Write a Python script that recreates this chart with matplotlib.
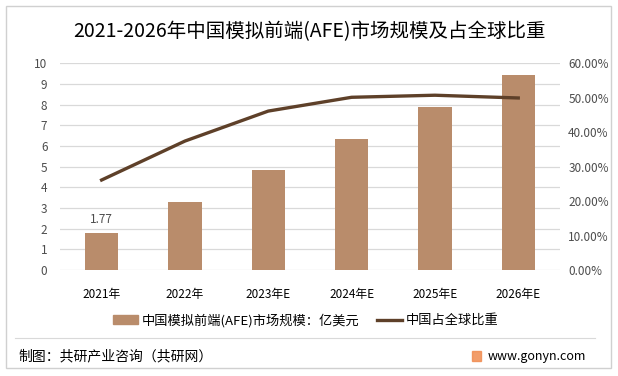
import numpy as np
import matplotlib
matplotlib.use('Agg')
import matplotlib.pyplot as plt
from matplotlib.patches import Rectangle
from matplotlib.lines import Line2D

plt.rcParams['font.family'] = ['Noto Sans CJK SC', 'DejaVu Sans']

# data
years = ['2021年', '2022年', '2023年E', '2024年E', '2025年E', '2026年E']
market = [1.77, 3.3, 4.83, 6.33, 7.87, 9.42]        # 亿美元
share = [26.1, 37.4, 46.1, 50.1, 50.7, 49.9]        # %

bar_color = '#B98C6B'
line_color = '#5E4029'
text_color = '#4D4D4D'

fig = plt.figure(figsize=(6.18, 3.76), dpi=100)
ax = fig.add_axes([0.097, 0.282, 0.809, 0.55])
ax2 = ax.twinx()

x = np.arange(len(years))
ax.bar(x, market, width=0.4, color=bar_color, zorder=2)
ax2.plot(x, share, color=line_color, lw=2.4, zorder=3)

ax.text(x[0], market[0] + 0.35, '%.2f' % market[0], ha='center', va='bottom',
        fontsize=8.5, color=text_color)

ax.set_xlim(-0.5, len(years) - 0.5)
ax.set_ylim(0, 10)
ax.set_yticks(range(0, 11))
ax2.set_ylim(0, 60)
ax2.set_yticks(range(0, 61, 10))
ax2.set_yticklabels(['%.2f%%' % v for v in range(0, 61, 10)])

ax.set_xticks(x)
ax.set_xticklabels(years)
ax.grid(axis='y', color='#D9D9D9', lw=0.9, zorder=0)
ax.set_axisbelow(True)

for a in (ax, ax2):
    for s in a.spines.values():
        s.set_visible(False)
    a.tick_params(length=0, labelsize=8.5, colors=text_color)
ax.tick_params(axis='y', pad=9)
ax.tick_params(axis='x', pad=13, labelcolor='#000000')
ax2.tick_params(axis='y', pad=6)

fig.text(0.5, 0.915, '2021-2026年中国模拟前端(AFE)市场规模及占全球比重',
         ha='center', va='center', fontsize=14, color='#000000', fontweight='light')

# legend
handles = [Rectangle((0, 0), 1, 1, color=bar_color),
           Line2D([0], [0], color=line_color, lw=2.4)]
labels = ['中国模拟前端(AFE)市场规模：亿美元', '中国占全球比重']
fig.legend(handles, labels, loc='center', bbox_to_anchor=(0.495, 0.148), ncol=2,
           frameon=False, fontsize=9.5, handlelength=1.9, handleheight=0.75,
           columnspacing=1.3, handletextpad=0.3)

# footer
fig.add_artist(Line2D([0.025, 0.963], [0.101, 0.101], color='#D9D9D9', lw=0.8))
fig.text(0.029, 0.053, '制图：共研产业咨询（共研网）', ha='left', va='center',
         fontsize=10, color='#000000')
fig.text(0.949, 0.053, 'www.gonyn.com', ha='right', va='center',
         fontsize=9, color='#000000')
fig.add_artist(Rectangle((0.763, 0.041), 0.015, 0.025, color='#F08C50', alpha=0.85))

# outer border
fig.add_artist(Rectangle((0.0097, 0.021), 0.979, 0.963, fill=False,
                         edgecolor='#D0D0D0', lw=1.0))

fig.savefig('out.png', dpi=100, facecolor='white')
